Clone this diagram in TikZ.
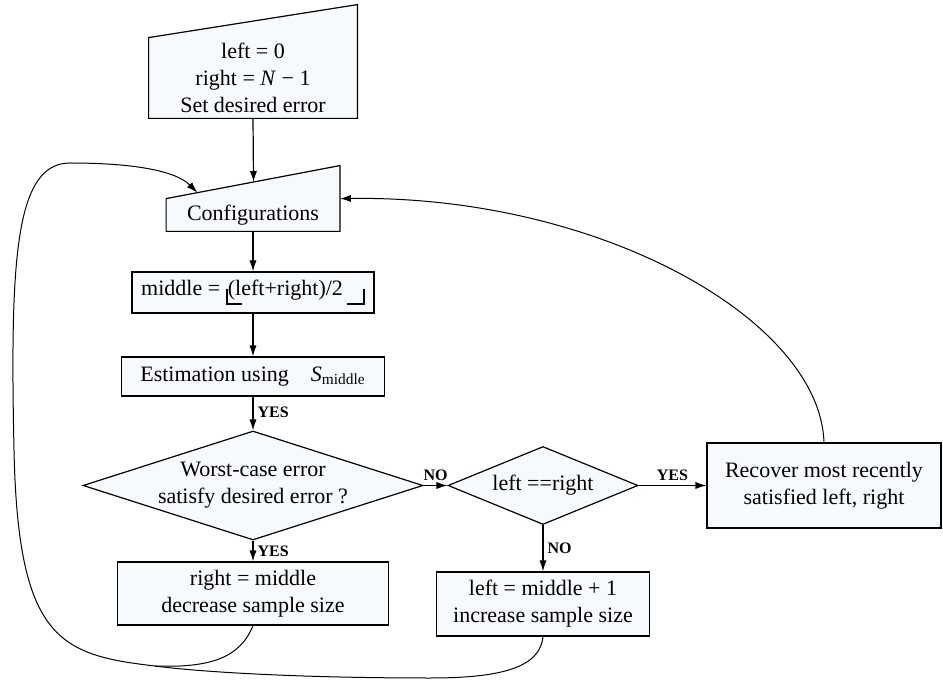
\documentclass[tikz,border=0pt]{standalone}
\usepackage{fontspec}
\setmainfont{Liberation Serif}
\usetikzlibrary{shapes.geometric,arrows.meta,calc,backgrounds}
\definecolor{boxfill}{HTML}{F6FAFC}
\newcommand{\flrleft}{\rule[-5pt]{1.1pt}{8pt}\rlap{\rule[-5pt]{7pt}{1.1pt}}}
\newcommand{\flrright}{\,\rule[-5pt]{8pt}{1.1pt}\rule[-5pt]{1.1pt}{8pt}}
\tikzset{
  txt/.style={align=center, inner sep=0pt, font=\fontsize{11}{13.5}\selectfont},
  box/.style={txt, draw, fill=boxfill, line width=0.6pt},
  slant/.style={draw, fill=boxfill, line width=0.6pt},
  decision/.style={box, diamond},
  flow/.style={-{Latex[length=5.5pt,width=3.6pt]}, line width=0.6pt},
  loopline/.style={line width=0.5pt},
  tag/.style={font=\fontsize{8}{9}\selectfont\bfseries, inner sep=2pt}
}
\begin{document}
\begin{tikzpicture}[x=0.5pt,y=-0.5pt]
\useasboundingbox (0,0) rectangle (943,684);
% input boxes with slanted tops
\node[txt, minimum width=104pt, minimum height=40pt] (init) at (253,78) {left = 0\\right = \textit{N} − 1\\Set desired error};
\node[txt, minimum width=86.5pt, minimum height=16pt] (conf) at (253,215) {Configurations};
\coordinate (inittr) at ($(init.north east)+(0,-33)$);
\coordinate (conftr) at ($(conf.north east)+(0,-33)$);
\begin{scope}[on background layer]
\path[slant] (init.south west) -- (init.south east) -- (inittr) -- (init.north west) -- cycle;
\path[slant] (conf.south west) -- (conf.south east) -- (conftr) -- (conf.north west) -- cycle;
\end{scope}
\coordinate (conftop) at ($(conf.north west)!0.503!(conftr)$);
\coordinate (confin) at ($(conf.north west)!0.18!(conftr)$);
% process steps and decisions
\node[box, minimum width=121pt, minimum height=20.5pt] (mid) at (253,292.5) {middle = \flrleft(left+right)/2\flrright};
\node[box, minimum width=131.5pt, minimum height=19.5pt] (est) at (253,376.5) {Estimation using\quad\textit{S}\textsubscript{middle}};
\node[decision, minimum width=170pt, minimum height=54.5pt, aspect=3.12] (chk) at (253,485.5) {Worst-case error\\satisfy desired error ?};
\node[decision, minimum width=95pt, minimum height=39pt, aspect=2.44] (eq) at (543,485.5) {left ==right};
\node[box, minimum width=117pt, minimum height=42.5pt] (rec) at (824,485.5) {Recover most recently\\satisfied left, right};
\node[box, minimum width=135.5pt, minimum height=31.5pt] (rm) at (253,593.5) {right = middle\\decrease sample size};
\node[box, minimum width=106.5pt, minimum height=32pt] (inc) at (543,604) {left = middle + 1\\increase sample size};
% straight connectors
\draw[flow] (init.south) -- (conftop);
\draw[flow] (conf) -- (mid);
\draw[flow] (mid) -- (est);
\draw[flow] (est) -- node[tag, right, pos=0.45] {YES} (chk);
\draw[flow] (chk) -- node[tag, right] {YES} (rm);
\draw[flow] (chk) -- node[tag, above] {NO} (eq);
\draw[flow] (eq) -- node[tag, above] {YES} (rec);
\draw[flow] (eq) -- node[tag, right] {NO} (inc);
% loops back to the configurations
\coordinate (loopj) at (155,666);
\draw[flow, loopline] (loopj) .. controls (60,655) and (18,640) .. (14,450) .. controls (10,260) and (15,163) .. (70,163) .. controls (130,163) and (175,170) .. (confin);
\draw[loopline] (rm.south) .. controls (240,658) and (210,668) .. (loopj);
\draw[loopline] (inc.south) .. controls (540,668) and (500,678) .. (430,678) .. controls (300,678) and (200,672) .. (loopj);
\draw[flow, loopline] (rec.north) .. controls (820,320) and (600,195) .. (conf.north east);
\end{tikzpicture}
\end{document}
